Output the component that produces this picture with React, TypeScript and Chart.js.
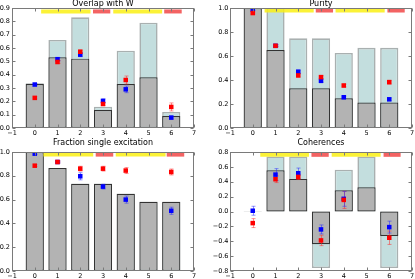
import React, { useEffect, useRef } from "react";
import { Chart, registerables } from "chart.js";

Chart.register(...registerables);

const FONT = "'DejaVu Sans', sans-serif";

const categories = [0, 1, 2, 3, 4, 5, 6];

// ---- Overlap with W ----
const overlapTitle = "Overlap with W";
const overlapGray = [0.33, 0.53, 0.52, 0.135, 0.33, 0.38, 0.09];
const overlapCyan = [0.335, 0.66, 0.83, 0.16, 0.58, 0.79, 0.12];
const overlapBlue = [0.326, 0.516, 0.55, 0.203, 0.29, null, 0.078];
const overlapBlueErr = [0.008, 0.012, 0.015, 0.015, 0.025, 0, 0.01];
const overlapRed = [0.226, 0.495, 0.572, 0.18, 0.36, null, 0.158];
const overlapRedErr = [0.008, 0.01, 0.012, 0.01, 0.03, 0, 0.03];
const overlapYellowSpans = [[0.28, 2.45], [3.45, 5.6]];
const overlapRedSpans = [[2.56, 3.32], [5.69, 6.46]];
const overlapBandY = 0.874;
const overlapYRange = [0, 0.9, 0.1];

// ---- Purity ----
const purityTitle = "Purity";
const purityGray = [1.0, 0.649, 0.331, 0.331, 0.247, 0.213, 0.213];
const purityCyan = [1.0, 1.0, 0.747, 0.747, 0.626, 0.668, 0.668];
const purityBlue = [0.986, 0.685, 0.469, 0.393, 0.256, null, 0.239];
const purityBlueErr = [0.008, 0.008, 0.012, 0.012, 0.01, 0, 0.01];
const purityRed = [0.958, 0.685, 0.438, 0.424, 0.354, null, 0.382];
const purityRedErr = [0.008, 0.008, 0.012, 0.012, 0.012, 0, 0.015];
const purityYellowSpans = [[0.52, 2.68], [3.64, 5.8]];
const purityRedSpans = [[2.77, 3.53], [5.92, 6.68]];
const purityBandY = 0.979;
const purityYRange = [0, 1.0, 0.2];

// ---- Fraction single excitation ----
const fractionTitle = "Fraction single excitation";
const fractionGray = [1.0, 0.866, 0.732, 0.732, 0.648, 0.581, 0.581];
const fractionCyan = [1.0, 0.866, 0.735, 0.735, 0.652, 0.581, 0.581];
const fractionBlue = [0.986, 0.916, 0.796, 0.709, 0.6, null, 0.506];
const fractionBlueErr = [0.008, 0.008, 0.03, 0.02, 0.03, 0, 0.03];
const fractionRed = [0.885, 0.916, 0.86, 0.86, 0.844, null, 0.832];
const fractionRedErr = [0.008, 0.008, 0.02, 0.02, 0.025, 0, 0.025];
const fractionYellowSpans = [[0.38, 2.57], [3.56, 5.75]];
const fractionRedSpans = [[2.68, 3.45], [5.8, 6.57]];
const fractionBandY = 0.978;
const fractionYRange = [0, 1.0, 0.2];

// ---- Coherences ----
const coherenceTitle = "Coherences";
const coherenceGray = [0.004, 0.554, 0.438, -0.44, 0.286, 0.326, -0.33];
const coherenceCyan = [0.004, 0.74, 0.74, -0.76, 0.563, 0.74, -0.76];
const coherenceBlue = [0.01, 0.496, 0.514, -0.241, 0.17, null, -0.21];
const coherenceBlueErr = [0.06, 0.08, 0.07, 0.06, 0.1, 0, 0.08];
const coherenceRed = [-0.156, 0.434, 0.465, -0.389, 0.156, null, -0.353];
const coherenceRedErr = [0.06, 0.045, 0.035, 0.07, 0.115, 0, 0.09];
const coherenceYellowSpans = [[0.33, 2.47], [3.47, 5.62]];
const coherenceRedSpans = [[2.58, 3.34], [5.75, 6.5]];
const coherenceBandY = 0.762;
const coherenceYRange = [-0.8, 0.8, 0.2];

const fmtNum = (v: number, dec: number) => {
  const s = (Math.abs(v) < 1e-9 ? 0 : v).toFixed(dec);
  return s.replace("-", "\u2212");
};

const frameAndTicks = {
  id: "frameAndTicks",
  afterDatasetDraw(chart: any, args: any) {
    const ds = chart.data.datasets[args.index];
    if (ds.label !== "grayBars") return;
    const ctx = chart.ctx;
    const xs = chart.scales.x;
    const ys = chart.scales.y;
    chart.data.datasets.forEach((d: any) => {
      if (!d.errColor) return;
      ctx.save();
      ctx.strokeStyle = d.errColor;
      ctx.lineWidth = 1;
      d.data.forEach((p: any) => {
        if (!p.e) return;
        const px = Math.round(xs.getPixelForValue(p.x)) + 0.5;
        const y1 = ys.getPixelForValue(p.y - p.e);
        const y2 = ys.getPixelForValue(p.y + p.e);
        ctx.beginPath();
        ctx.moveTo(px, y1);
        ctx.lineTo(px, y2);
        ctx.moveTo(px - 2, y1);
        ctx.lineTo(px + 2, y1);
        ctx.moveTo(px - 2, y2);
        ctx.lineTo(px + 2, y2);
        ctx.stroke();
      });
      ctx.restore();
    });
  },
  afterDraw(chart: any) {
    const ctx = chart.ctx;
    const a = chart.chartArea;
    const xs = chart.scales.x;
    const ys = chart.scales.y;
    ctx.save();
    ctx.strokeStyle = "#7a7a7a";
    ctx.lineWidth = 1;
    const L = Math.round(a.left) + 0.5;
    const R = Math.round(a.right) - 0.5;
    const T = Math.round(a.top) + 0.5;
    const B = Math.round(a.bottom) - 0.5;
    ctx.strokeRect(L, T, R - L, B - T);
    ctx.beginPath();
    xs.ticks.forEach((t: any) => {
      const px = Math.round(xs.getPixelForValue(t.value)) + 0.5;
      ctx.moveTo(px, B);
      ctx.lineTo(px, B - 3);
      ctx.moveTo(px, T);
      ctx.lineTo(px, T + 3);
    });
    ys.ticks.forEach((t: any) => {
      const py = Math.round(ys.getPixelForValue(t.value)) + 0.5;
      ctx.moveTo(L, py);
      ctx.lineTo(L + 3, py);
      ctx.moveTo(R, py);
      ctx.lineTo(R - 3, py);
    });
    ctx.stroke();
    ctx.restore();
  },
};

type PanelData = {
  title: string;
  gray: number[];
  cyan: number[];
  blue: (number | null)[];
  blueErr: number[];
  red: (number | null)[];
  redErr: number[];
  yellowSpans: number[][];
  redSpans: number[][];
  bandY: number;
  yRange: number[];
  yDec: number;
};

type PanelLayout = {
  left: number;
  top: number;
  width: number;
  height: number;
  yAxisWidth: number;
  padRight: number;
  titlePadBottom: number;
  titleLineHeight: number;
  yLabelPad: number;
};

function buildConfig(p: PanelData, lay: PanelLayout): any {
  const bars = (vals: number[]) => categories.map((x, i) => ({ x, y: vals[i] }));
  const pts = (vals: (number | null)[], errs: number[]) =>
    categories
      .map((x, i) => ({ x, y: vals[i], e: errs[i] }))
      .filter((d) => d.y !== null);
  const spanSets = (spans: number[][], color: string) =>
    spans.map((s) => ({
      type: "line",
      label: "span",
      data: [
        { x: s[0], y: p.bandY },
        { x: s[1], y: p.bandY },
      ],
      borderColor: color,
      borderWidth: 4,
      borderCapStyle: "butt",
      pointRadius: 0,
      order: 3,
    }));

  const datasets: any[] = [
    {
      type: "scatter",
      label: "red",
      data: pts(p.red, p.redErr),
      backgroundColor: "#ff0000",
      borderColor: "#ff0000",
      borderWidth: 0,
      pointStyle: "rect",
      pointRadius: 3.2,
      errColor: "rgba(255,40,40,0.5)",
      order: 1,
    },
    {
      type: "scatter",
      label: "blue",
      data: pts(p.blue, p.blueErr),
      backgroundColor: "#0000ff",
      borderColor: "#0000ff",
      borderWidth: 0,
      pointStyle: "rect",
      pointRadius: 3.2,
      errColor: "rgba(40,40,255,0.5)",
      order: 2,
    },
    ...spanSets(p.yellowSpans, "rgba(250,240,20,0.85)"),
    ...spanSets(p.redSpans, "rgba(240,60,60,0.8)"),
    {
      type: "bar",
      label: "grayBars",
      data: bars(p.gray),
      backgroundColor: "#b3b3b3",
      borderColor: "#333333",
      borderWidth: 1.2,
      borderSkipped: false,
      grouped: false,
      barPercentage: 0.8,
      categoryPercentage: 1,
      order: 4,
    },
    {
      type: "bar",
      label: "cyanBars",
      data: bars(p.cyan),
      backgroundColor: "#c3dede",
      borderColor: "rgba(140,150,150,0.75)",
      borderWidth: 1.6,
      borderSkipped: false,
      grouped: false,
      barPercentage: 0.8,
      categoryPercentage: 1,
      order: 5,
    },
  ];

  const tickFont = { family: FONT, size: 6.5, lineHeight: 1.2 };

  return {
    type: "bar",
    data: { datasets },
    options: {
      animation: false,
      responsive: false,
      devicePixelRatio: 1,
      layout: { padding: { left: 0, right: lay.padRight, top: 0, bottom: 0 } },
      plugins: {
        legend: { display: false },
        tooltip: { enabled: false },
        title: {
          display: true,
          text: p.title,
          fullSize: false,
          color: "#000",
          font: { family: FONT, size: 8, weight: "normal", lineHeight: lay.titleLineHeight },
          padding: { top: 0, bottom: lay.titlePadBottom },
        },
      },
      scales: {
        x: {
          type: "linear",
          min: -1,
          max: 7,
          offset: false,
          grid: { display: false, drawTicks: false },
          border: { display: false },
          ticks: {
            stepSize: 1,
            autoSkip: false,
            maxRotation: 0,
            padding: 1,
            color: "#000",
            font: tickFont,
            callback: (v: number) => fmtNum(v, 0),
          },
          afterFit: (s: any) => {
            s.height = 12;
          },
        },
        y: {
          type: "linear",
          min: p.yRange[0],
          max: p.yRange[1],
          grid: { display: false, drawTicks: false },
          border: { display: false },
          ticks: {
            stepSize: p.yRange[2],
            autoSkip: false,
            padding: lay.yLabelPad,
            color: "#000",
            font: tickFont,
            callback: (v: number) => fmtNum(v, p.yDec),
          },
          afterFit: (s: any) => {
            s.width = lay.yAxisWidth;
          },
        },
      },
    },
    plugins: [frameAndTicks],
  };
}

function Panel({ data, layout }: { data: PanelData; layout: PanelLayout }) {
  const ref = useRef<HTMLCanvasElement | null>(null);
  useEffect(() => {
    if (!ref.current) return;
    const chart = new Chart(ref.current, buildConfig(data, layout));
    return () => chart.destroy();
  }, []);
  return (
    <canvas
      ref={ref}
      width={layout.width}
      height={layout.height}
      style={{
        position: "absolute",
        left: layout.left,
        top: layout.top,
        width: layout.width,
        height: layout.height,
      }}
    />
  );
}

const panels: { data: PanelData; layout: PanelLayout }[] = [
  {
    data: {
      title: overlapTitle,
      gray: overlapGray,
      cyan: overlapCyan,
      blue: overlapBlue,
      blueErr: overlapBlueErr,
      red: overlapRed,
      redErr: overlapRedErr,
      yellowSpans: overlapYellowSpans,
      redSpans: overlapRedSpans,
      bandY: overlapBandY,
      yRange: overlapYRange,
      yDec: 1,
    },
    layout: { left: -8, top: -1, width: 210, height: 141, yAxisWidth: 20, padRight: 8, titlePadBottom: 0, titleLineHeight: 1.125, yLabelPad: 2 },
  },
  {
    data: {
      title: purityTitle,
      gray: purityGray,
      cyan: purityCyan,
      blue: purityBlue,
      blueErr: purityBlueErr,
      red: purityRed,
      redErr: purityRedErr,
      yellowSpans: purityYellowSpans,
      redSpans: purityRedSpans,
      bandY: purityBandY,
      yRange: purityYRange,
      yDec: 1,
    },
    layout: { left: 200, top: -1, width: 218, height: 141, yAxisWidth: 30, padRight: 6, titlePadBottom: 0, titleLineHeight: 1.125, yLabelPad: 1.5 },
  },
  {
    data: {
      title: fractionTitle,
      gray: fractionGray,
      cyan: fractionCyan,
      blue: fractionBlue,
      blueErr: fractionBlueErr,
      red: fractionRed,
      redErr: fractionRedErr,
      yellowSpans: fractionYellowSpans,
      redSpans: fractionRedSpans,
      bandY: fractionBandY,
      yRange: fractionYRange,
      yDec: 1,
    },
    layout: { left: -8, top: 138, width: 210, height: 145, yAxisWidth: 20, padRight: 8, titlePadBottom: 4, titleLineHeight: 1.25, yLabelPad: 2 },
  },
  {
    data: {
      title: coherenceTitle,
      gray: coherenceGray,
      cyan: coherenceCyan,
      blue: coherenceBlue,
      blueErr: coherenceBlueErr,
      red: coherenceRed,
      redErr: coherenceRedErr,
      yellowSpans: coherenceYellowSpans,
      redSpans: coherenceRedSpans,
      bandY: coherenceBandY,
      yRange: coherenceYRange,
      yDec: 1,
    },
    layout: { left: 200, top: 138, width: 218, height: 145, yAxisWidth: 30, padRight: 6, titlePadBottom: 4, titleLineHeight: 1.25, yLabelPad: 1.5 },
  },
];

export default function App() {
  return (
    <div
      style={{
        position: "fixed",
        left: 0,
        top: 0,
        width: 415,
        height: 279,
        overflow: "hidden",
        background: "#ffffff",
      }}
    >
      {panels.map((p, i) => (
        <Panel key={i} data={p.data} layout={p.layout} />
      ))}
    </div>
  );
}
